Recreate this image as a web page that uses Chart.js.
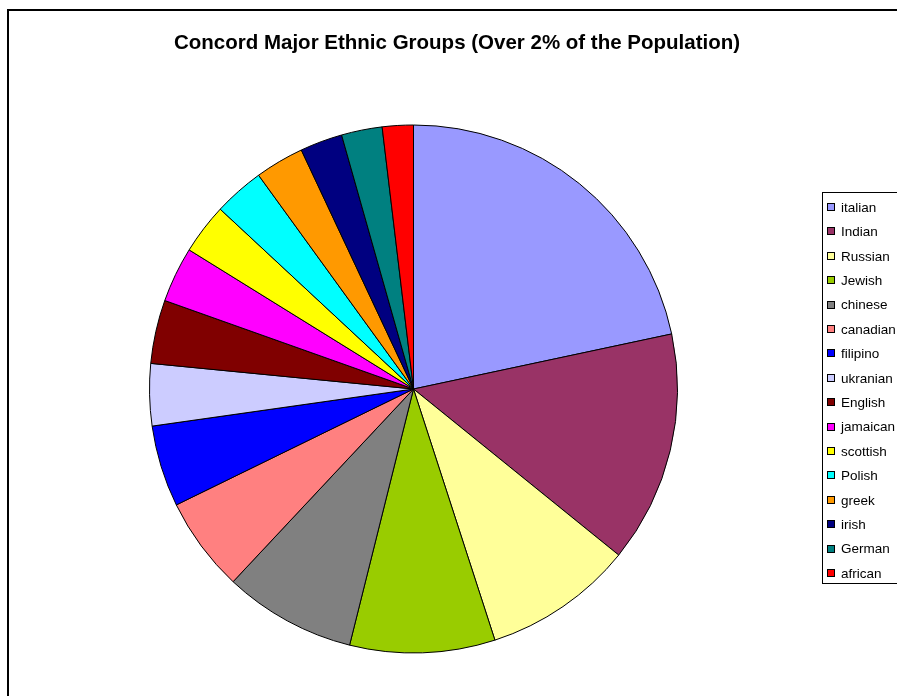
<!DOCTYPE html>
<html>
<head>
<meta charset="utf-8">
<title>Concord Major Ethnic Groups</title>
<script src="https://cdn.jsdelivr.net/npm/chart.js@4.4.0/dist/chart.umd.min.js"></script>
<style>
    body { margin: 0; background: #fff; }
    #wrap { width: 897px; height: 696px; }
</style>
</head>
<body>
<div id="wrap"><canvas id="myChart" width="897" height="696"></canvas></div>
<script>
// share of population (%) for each group
var groups = ["italian", "Indian", "Russian", "Jewish", "chinese", "canadian", "filipino", "ukranian",
              "English", "jamaican", "scottish", "Polish", "greek", "irish", "German", "african"];
var shares = [21.7, 14.2, 9.2, 8.9, 8.1, 5.8, 5.0, 3.8, 3.9, 3.4, 3.1, 3.1, 3.0, 2.6, 2.5, 1.9];
var colours = ["#9999FF", "#993366", "#FFFF99", "#99CC00", "#808080", "#FF8080", "#0000FF", "#CCCCFF",
               "#800000", "#FF00FF", "#FFFF00", "#00FFFF", "#FF9900", "#000080", "#008080", "#FF0000"];

var chartTitle = "Concord Major Ethnic Groups (Over 2% of the Population)";

// frame, title and the boxed legend on the right
var decorations = {
    id: 'decorations',
    afterDraw: function (chart) {
        var c = chart.ctx;
        c.save();
        c.fillStyle = '#000';
        c.fillRect(7, 9, 2, 687);
        c.fillRect(7, 9, 890, 2);

        c.font = 'bold 20.5px "Liberation Sans", Arial, sans-serif';
        c.textAlign = 'center';
        c.textBaseline = 'middle';
        c.fillText(chartTitle, 457, 43);

        c.lineWidth = 1;
        c.strokeStyle = '#000';
        c.strokeRect(822.5, 192.5, 90, 391);

        c.font = '13.5px "Liberation Sans", Arial, sans-serif';
        c.textAlign = 'left';
        var labels = chart.data.labels;
        var bg = chart.data.datasets[0].backgroundColor;
        for (var i = 0; i < labels.length; i++) {
            var y = 207 + i * 24.4;
            c.fillStyle = bg[i];
            c.fillRect(827, Math.round(y) - 4, 8, 8);
            c.strokeRect(827.5, Math.round(y) - 3.5, 7, 7);
            c.fillStyle = '#000';
            c.fillText(labels[i], 841, y + 1);
        }
        c.restore();
    }
};

var ctx = document.getElementById('myChart');
var chart = new Chart(ctx, {
    type: 'pie',
    data: {
        labels: groups,
        datasets: [{
            data: shares,
            backgroundColor: colours,
            borderColor: '#000',
            borderWidth: 1
        }]
    },
    options: {
        responsive: false,
        animation: false,
        devicePixelRatio: 1,
        radius: 264,
        layout: { padding: { left: 0, right: 70, top: 82, bottom: 0 } },
        plugins: {
            legend: { display: false },
            title: { display: false },
            tooltip: { enabled: false }
        }
    },
    plugins: [decorations]
});
</script>
</body>
</html>
